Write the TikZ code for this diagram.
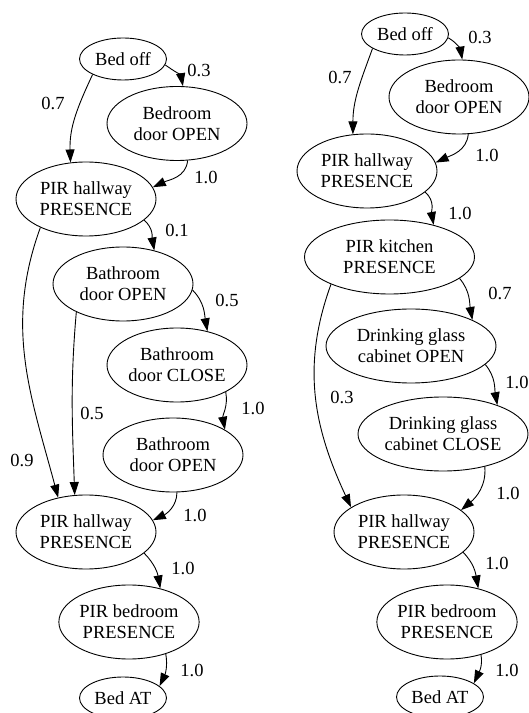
\documentclass[tikz,border=0pt]{standalone}
\usepackage{fontspec}
\setmainfont{Liberation Serif}
\usetikzlibrary{shapes.geometric,arrows.meta}

\tikzset{
  state/.style={ellipse, draw, line width=0.9pt, inner sep=0pt, align=center,
    minimum width=140pt, minimum height=74pt, font=\fontsize{18.5}{21}\selectfont},
  widestate/.style={state, minimum width=170pt},
  smallstate/.style={state, minimum width=87pt, minimum height=42pt},
  prob/.style={font=\fontsize{18.5}{21}\selectfont, inner sep=0pt},
  trans/.style={line width=0.9pt, -{Triangle[length=13pt,width=9pt]}}
}

\begin{document}
\begin{tikzpicture}[x=1pt,y=1pt]
\useasboundingbox (0,0) rectangle (529,713);

% left sequence
\node[smallstate] (lbedoff) at (123,654) {Bed off};
\node[state] (lbedroom) at (177,589.5) {Bedroom\\door OPEN};
\node[state] (lhall) at (86,514) {PIR hallway\\PRESENCE};
\node[state] (lbath) at (123,429) {Bathroom\\door OPEN};
\node[state] (lclose) at (177,348) {Bathroom\\door CLOSE};
\node[state] (lbath2) at (173,258) {Bathroom\\door OPEN};
\node[state] (lhall2) at (86,181) {PIR hallway\\PRESENCE};
\node[state] (lpirbed) at (129,91) {PIR bedroom\\PRESENCE};
\node[smallstate] (lbedat) at (123,15) {Bed AT};

\draw[trans] (lbedoff.-8) to[out=-35,in=100] (lbedroom.81);
\draw[trans] (lbedoff.-153) to[out=-115,in=92] (lhall.113);
\draw[trans] (lbedroom.-74) to[out=-95,in=25] (lhall.10);
\draw[trans] (lhall.-20) to[out=-40,in=100] (lbath.47);
\draw[trans] (lbath.-5) to[out=-45,in=100] (lclose.48);
\draw[trans] (lclose.-29) to[out=-80,in=100] (lbath2.26);
\draw[trans] (lbath.-149) to[out=-95,in=92] (lhall2.107);
\draw[trans] (lhall.-148) to[out=-110,in=105] (lhall2.129);
\draw[trans] (lbath2.-84) to[out=-90,in=25] (lhall2.10);
\draw[trans] (lhall2.-20) to[out=-45,in=100] (lpirbed.47);
\draw[trans] (lpirbed.-41) to[out=-80,in=65] (lbedat.18);

\node[prob] (lp1) at (199,643) {0.3};
\node[prob] (lp2) at (53,610) {0.7};
\node[prob] (lp3) at (206,536) {1.0};
\node[prob] (lp4) at (177,483) {0.1};
\node[prob] (lp5) at (227,413) {0.5};
\node[prob] (lp6) at (253,305) {1.0};
\node[prob] (lp7) at (92,300) {0.5};
\node[prob] (lp8) at (22,253) {0.9};
\node[prob] (lp9) at (195,198) {1.0};
\node[prob] (lp10) at (183,145) {1.0};
\node[prob] (lp11) at (192,43) {1.0};

% right sequence
\node[smallstate] (rbedoff) at (405,679) {Bed off};
\node[state] (rbedroom) at (459,616) {Bedroom\\door OPEN};
\node[state] (rhall) at (367,542) {PIR hallway\\PRESENCE};
\node[widestate] (rkitchen) at (389.5,456) {PIR kitchen\\PRESENCE};
\node[widestate] (rglassopen) at (411,367) {Drinking glass\\cabinet OPEN};
\node[widestate] (rglassclose) at (443,279) {Drinking glass\\cabinet CLOSE};
\node[state] (rhall2) at (404,181) {PIR hallway\\PRESENCE};
\node[state] (rpirbed) at (447,91) {PIR bedroom\\PRESENCE};
\node[smallstate] (rbedat) at (440,16) {Bed AT};

\draw[trans] (rbedoff.-5) to[out=-30,in=100] (rbedroom.85);
\draw[trans] (rbedoff.-156) to[out=-110,in=90] (rhall.111);
\draw[trans] (rbedroom.-76) to[out=-95,in=25] (rhall.7);
\draw[trans] (rhall.-20) to[out=-40,in=100] (rkitchen.36);
\draw[trans] (rkitchen.-17) to[out=-50,in=100] (rglassopen.23);
\draw[trans] (rglassopen.-14) to[out=-50,in=100] (rglassclose.28);
\draw[trans] (rkitchen.-155) to[out=-110,in=115] (rhall2.155);
\draw[trans] (rglassclose.-38) to[out=-85,in=40] (rhall2.21);
\draw[trans] (rhall2.-19) to[out=-45,in=100] (rpirbed.47);
\draw[trans] (rpirbed.-44) to[out=-80,in=65] (rbedat.22);

\node[prob] (rp1) at (480,676) {0.3};
\node[prob] (rp2) at (340,636) {0.7};
\node[prob] (rp3) at (487,558) {1.0};
\node[prob] (rp4) at (460,500) {1.0};
\node[prob] (rp5) at (500,420) {0.7};
\node[prob] (rp6) at (517,331) {1.0};
\node[prob] (rp7) at (342,316) {0.3};
\node[prob] (rp8) at (508,220) {1.0};
\node[prob] (rp9) at (497,150) {1.0};
\node[prob] (rp10) at (507,43) {1.0};
\end{tikzpicture}
\end{document}
